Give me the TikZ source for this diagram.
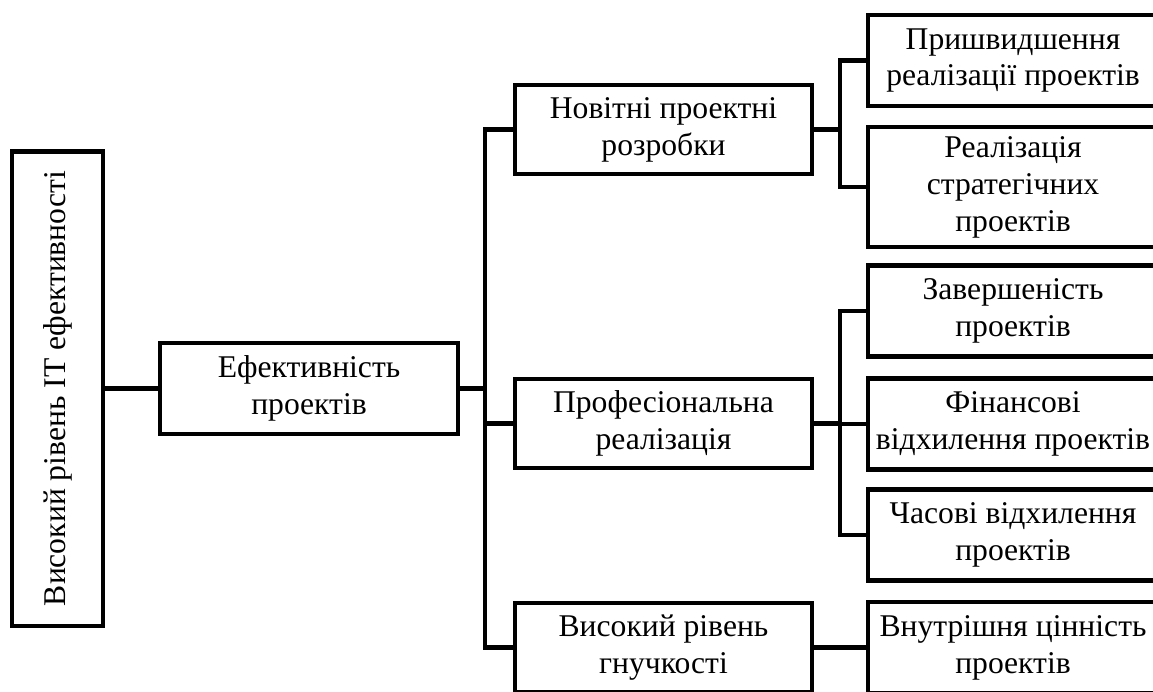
\documentclass[tikz,border=0pt]{standalone}
\usepackage{fontspec}
\setmainfont{Liberation Serif}
\usetikzlibrary{positioning}
\tikzset{box/.style={draw,line width=2.8pt,align=center,inner sep=2pt,font=\fontsize{18}{21}\selectfont},root/.style={box,rotate=90,minimum width=9.5cm,minimum height=1.82cm},goal/.style={box,minimum width=5.96cm,minimum height=1.82cm},factor/.style={box,minimum width=5.94cm,minimum height=1.78cm},leaf/.style={box,minimum width=5.8cm,minimum height=1.82cm},link/.style={line width=2.8pt}}
\begin{document}
\begin{tikzpicture}[x=.02cm,y=-.02cm]
 \useasboundingbox (0,0) rectangle (1153,691);
 \node[root] (top) at (57.5,388.5) {Високий рівень ІТ ефективності};
 \node[goal] (eff) at (309,388.5) {Ефективність\\проектів};

 \node[factor] (novel) at (663.5,129.5) {Новітні проектні\\розробки};
 \node[factor] (prof) at (663.5,423.5) {Професіональна\\реалізація};
 \node[factor] (flex) at (663.5,647.5) {Високий рівень\\гнучкості};

 \node[leaf] (speed) at (1013,60.5) {Пришвидшення\\реалізації проектів};
 \node[leaf,minimum height=2.4cm] (strat) at (1013,187) {Реалізація\\стратегічних\\проектів};
 \node[leaf] (done) at (1013,311) {Завершеність\\проектів};
 \node[leaf] (money) at (1013,424) {Фінансові\\відхилення проектів};
 \node[leaf] (time) at (1013,535) {Часові відхилення\\проектів};
 \node[leaf] (value) at (1013,647.5) {Внутрішня цінність\\проектів};

 % splitting points of the tree
 \coordinate (trunk) at (485,388.5);
 \coordinate (novelsplit) at (840,129.5);
 \coordinate (profsplit) at (840,423.5);

 \draw[link] (top) -- (eff);
 \draw[link] (eff) -- (trunk);
 \foreach \dst in {novel,prof,flex} {\draw[link] (trunk) |- (\dst);}
 \draw[link] (novel) -- (novelsplit);
 \foreach \dst in {speed,strat} {\draw[link] (novelsplit) |- (\dst);}
 \draw[link] (prof) -- (profsplit);
 \foreach \dst in {done,money,time} {\draw[link] (profsplit) |- (\dst);}
 \draw[link] (flex) -- (value);
\end{tikzpicture}
\end{document}
